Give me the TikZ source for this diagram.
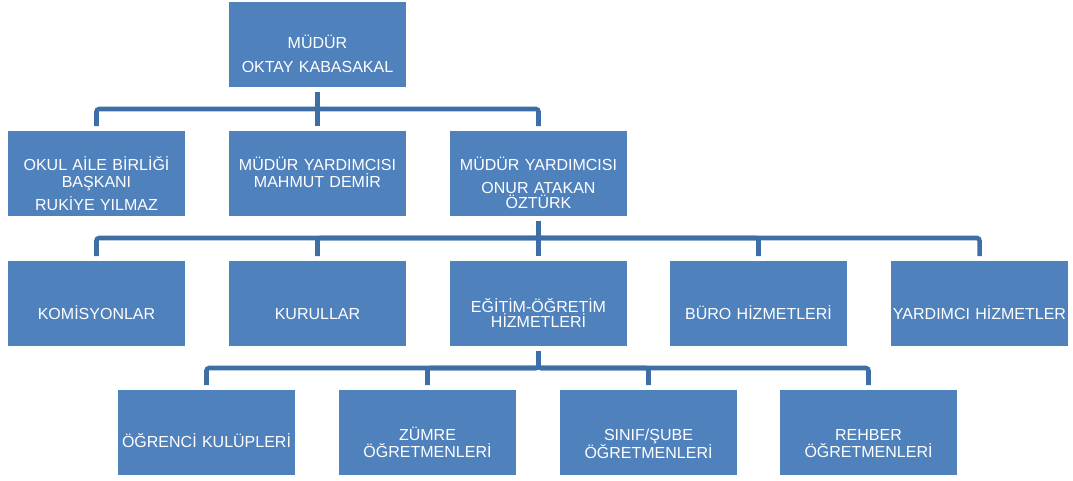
\documentclass[tikz,border=0pt]{standalone}
\usepackage{fontspec}
\setmainfont{Liberation Sans}
\definecolor{boxblue}{HTML}{4F81BD}
\definecolor{lineblue}{HTML}{3E6EA6}
\tikzset{
  box/.style={rectangle, fill=boxblue, text=white, minimum width=132.75pt, minimum height=63.75pt,
    text width=131pt, align=center, inner xsep=0pt, outer sep=0pt,
    font=\fontsize{12}{12.75}\selectfont},
  tb/.style 2 args={text height=#1, text depth=#2},
  link/.style={draw=lineblue, line width=3.4pt, rounded corners=2pt, shorten <=3.75pt, shorten >=3.75pt}
}
\begin{document}
\begin{tikzpicture}[x=0.75pt, y=-0.75pt]
	\useasboundingbox (0,0) rectangle (1073,480);

	% top
	\node[box, tb={6pt}{0pt}] (mudur) at (317.5,44.5) {MÜDÜR\\[5.6pt]OKTAY KABASAKAL};

	% second row
	\node[box, tb={0pt}{5.25pt}] (okul) at (96.5,173.5) {OKUL AİLE BİRLİĞİ\\BAŞKANI\\[3.75pt]RUKİYE YILMAZ};
	\node[box, tb={0pt}{5.25pt}] (yrd1) at (317.5,173.5) {MÜDÜR YARDIMCISI\\MAHMUT DEMİR};
	\node[box, tb={0pt}{5.25pt}] (yrd2) at (538.5,173.5) {MÜDÜR YARDIMCISI\\[4.5pt]ONUR ATAKAN\\[-1.5pt]ÖZTÜRK};

	% third row
	\node[box, tb={23.25pt}{0pt}] (komisyon) at (96.5,303.5) {KOMİSYONLAR};
	\node[box, tb={23.25pt}{0pt}] (kurul) at (317.5,303.5) {KURULLAR};
	\node[box, tb={12.75pt}{0pt}] (egitim) at (538.5,303.5) {EĞİTİM-ÖĞRETİM\\[-1.5pt]HİZMETLERİ};
	\node[box, tb={23.25pt}{0pt}] (buro) at (758.5,303.5) {BÜRO HİZMETLERİ};
	\node[box, tb={23.25pt}{0pt}] (yardimci) at (979.5,303.5) {YARDIMCI HİZMETLER};

	% fourth row
	\node[box, tb={21.75pt}{0pt}] (ogrenci) at (206.5,432.5) {ÖĞRENCİ KULÜPLERİ};
	\node[box, tb={11.25pt}{0pt}] (zumre) at (427.5,432.5) {ZÜMRE\\ÖĞRETMENLERİ};
	\node[box, tb={11.25pt}{0pt}] (sinif) at (648.5,432.5) {SINIF/ŞUBE\\ÖĞRETMENLERİ};
	\node[box, tb={11.25pt}{0pt}] (rehber) at (868.5,432.5) {REHBER\\ÖĞRETMENLERİ};

	% connectors
	\foreach \c in {okul,yrd1,yrd2}
		\draw[link] (mudur.south) -- ++(0,22) -| (\c.north);
	\foreach \c in {komisyon,kurul,egitim,buro,yardimci}
		\draw[link] (yrd2.south) -- ++(0,22) -| (\c.north);
	\foreach \c in {ogrenci,zumre,sinif,rehber}
		\draw[link] (egitim.south) -- ++(0,22) -| (\c.north);
\end{tikzpicture}
\end{document}
